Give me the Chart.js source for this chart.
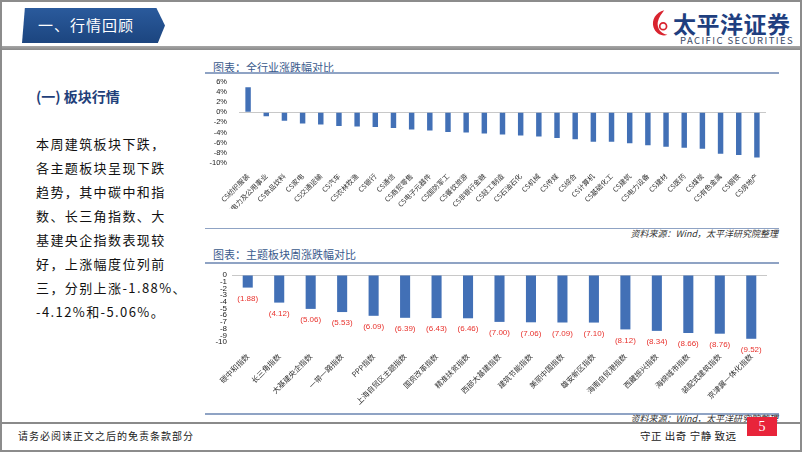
<!doctype html>
<html>
<head>
<meta charset="utf-8">
<title>行情回顾</title>
<script src="https://cdn.jsdelivr.net/npm/chart.js@4.4.0/dist/chart.umd.min.js"></script>
<style>
body { margin:0; background:#fff; font-family:"Noto Sans CJK SC","Noto Sans",sans-serif; }
#slide { position:relative; width:802px; height:452px; overflow:hidden; background:#fff; }
.abs { position:absolute; }
.frame { position:absolute; left:0; top:0; width:802px; height:452px; box-sizing:border-box; border:2px solid #8c8c8c; pointer-events:none; }
.banner { left:22px; top:8px; width:143px; height:35px; background:linear-gradient(#2a5a9c,#1c457f);
  clip-path:polygon(2% 0,94% 0,100% 50%,95% 100%,0 100%); }
.banner span { position:absolute; left:16px; top:6px; color:#fff; font-size:15px; letter-spacing:1px; white-space:nowrap; }
.hline { left:0; top:46px; width:802px; height:4px; background:linear-gradient(#a6a6a6,#8a8a8a); }
.brand { left:673px; top:6px; color:#1f3f7f; font-size:23px; font-weight:bold; letter-spacing:0.5px; white-space:nowrap; }
.brand-en { left:680px; top:33px; color:#3b4a66; font-size:9.5px; letter-spacing:1.4px; white-space:nowrap; }
.sec { left:36px; top:86px; color:#1f3f7a; font-size:14px; font-weight:bold; white-space:nowrap; }
.body { left:36px; top:132px; width:160px; color:#111; font-size:13px; line-height:24px; letter-spacing:1.4px; white-space:nowrap; }
.ctitle { color:#3a5a8c; font-size:11px; white-space:nowrap; }
.cline { height:2px; background:#8fa3c4; }
.src { color:#333; font-size:9px; font-style:italic; white-space:nowrap; text-align:right; }
.foot { left:0; top:422px; width:802px; height:2px; background:#8a8a8a; }
.page { left:747px; top:417px; width:30px; height:19px; background:#e8243a; color:#fff; font-size:14px; text-align:center; line-height:19px; font-family:"Liberation Serif",serif; }
</style>
</head>
<body>
<div id="slide">
  <div class="abs banner"><span>一、行情回顾</span></div>
  <svg class="abs" style="left:650px;top:8px" width="22" height="30" viewBox="0 0 20 28">
    <path d="M13 2 C5 4 1 11 3 18 C5 24 11 27 16 25 C10 24 6 19 7 13 C8 8 11 5 13 2 Z" fill="#d9242f"/>
    <circle cx="12" cy="17" r="3.2" fill="none" stroke="#d9242f" stroke-width="1.6"/>
  </svg>
  <div class="abs brand">太平洋证券</div>
  <div class="abs brand-en">PACIFIC SECURITIES</div>
  <div class="abs hline"></div>

  <div class="abs sec">(一) 板块行情</div>
  <div class="abs body">本周建筑板块下跌，<br>各主题板块呈现下跌<br>趋势，其中碳中和指<br>数、长三角指数、大<br>基建央企指数表现较<br>好，上涨幅度位列前<br>三，分别上涨-1.88%、<br>-4.12%和-5.06%。</div>

  <div class="abs ctitle" style="left:213px;top:59px">图表：全行业涨跌幅对比</div>
  <div class="abs cline" style="left:205px;top:72px;width:574px"></div>
  <div class="abs" style="left:205px;top:66px;width:575px;height:143px"><canvas id="industryChart"></canvas></div>
  <div class="abs cline" style="left:205px;top:228px;width:574px;height:1px"></div>
  <div class="abs src" style="left:500px;top:227px;width:278px">资料来源：Wind，太平洋研究院整理</div>

  <div class="abs ctitle" style="left:213px;top:246px">图表：主题板块周涨跌幅对比</div>
  <div class="abs cline" style="left:205px;top:262px;width:574px"></div>
  <div class="abs" style="left:205px;top:266px;width:575px;height:140px"><canvas id="themeChart"></canvas></div>
  <div class="abs cline" style="left:205px;top:413px;width:574px"></div>
  <div class="abs src" style="left:500px;top:412px;width:278px">资料来源：Wind，太平洋研究院整理</div>

  <div class="abs foot"></div>
  <div class="abs page">5</div>
  <div class="abs" style="left:18px;top:428px;font-size:10px;color:#222;letter-spacing:1px">请务必阅读正文之后的免责条款部分</div>
  <div class="abs" style="left:640px;top:428px;font-size:10.5px;color:#222;letter-spacing:0.5px;white-space:nowrap">守正 出奇 宁静 致远</div>
  <div class="frame"></div>
</div>
<script>
var industryNames = ['CS纺织服装', 'CS电力及公用事业', 'CS食品饮料', 'CS家电', 'CS交通运输', 'CS汽车',
  'CS农林牧渔', 'CS银行', 'CS通信', 'CS商贸零售', 'CS电子元器件', 'CS国防军工', 'CS餐饮旅游',
  'CS非银行金融', 'CS轻工制造', 'CS石油石化', 'CS机械', 'CS传媒', 'CS综合', 'CS计算机',
  'CS基础化工', 'CS建筑', 'CS电力设备', 'CS建材', 'CS医药', 'CS煤炭', 'CS有色金属', 'CS钢铁', 'CS房地产'];
var industryChange = [4.9, -0.8, -1.7, -2.2, -2.4, -2.7, -2.8, -2.9, -3.1, -3.4, -3.6, -3.9, -4.0,
  -4.2, -4.4, -4.6, -4.8, -5.1, -5.3, -5.8, -5.8, -6.1, -6.5, -6.8, -7.0, -7.2, -8.2, -8.4, -8.9];

var themeNames = ['碳中和指数', '长三角指数', '大基建央企指数', '一带一路指数', 'PPP指数', '上海自贸区主题指数',
  '国资改革指数', '精准扶贫指数', '西部大基建指数', '建筑节能指数', '美丽中国指数', '雄安新区指数',
  '海南自贸港指数', '西藏振兴指数', '海绵城市指数', '装配式建筑指数', '京津冀一体化指数'];
var themeChange = [-1.88, -4.12, -5.06, -5.53, -6.09, -6.39, -6.43, -6.46, -7.00, -7.06, -7.09, -7.10,
  -8.12, -8.34, -8.66, -8.76, -9.52];

var barColor = '#4270b6';
var cjk = '"Noto Sans CJK SC", sans-serif';

// red "(x.xx)" labels under each theme bar
var valueLabels = {
  id: 'valueLabels',
  afterDatasetsDraw: function(chart) {
    var ctx = chart.ctx;
    var meta = chart.getDatasetMeta(0);
    ctx.save();
    ctx.fillStyle = '#e8322d';
    ctx.font = '8px "Liberation Sans"';
    ctx.textAlign = 'center';
    ctx.textBaseline = 'middle';
    meta.data.forEach(function(bar, i) {
      var v = chart.data.datasets[0].data[i];
      ctx.fillText('(' + Math.abs(v).toFixed(2) + ')', bar.x, bar.y + 11);
    });
    ctx.restore();
  }
};

function zeroLine(ctx) {
  return ctx.tick && ctx.tick.value === 0 ? '#c8c8c8' : 'rgba(0,0,0,0)';
}

new Chart(document.getElementById('industryChart'), {
  type: 'bar',
  data: {
    labels: industryNames,
    datasets: [{ data: industryChange, backgroundColor: barColor, barPercentage: 0.3, categoryPercentage: 1 }]
  },
  options: {
    responsive: true,
    maintainAspectRatio: false,
    animation: false,
    layout: { padding: { top: 6, right: 14, left: 0, bottom: 0 } },
    plugins: { legend: { display: false }, tooltip: { enabled: false } },
    scales: {
      x: {
        grid: { display: false },
        border: { display: false },
        ticks: { autoSkip: false, minRotation: 45, maxRotation: 45, padding: 1,
          color: '#333', font: { size: 7, family: cjk } },
        afterFit: function(s) { s.height = 46; }
      },
      y: {
        min: -10, max: 6,
        grid: { color: zeroLine, drawTicks: false },
        border: { display: false },
        ticks: { stepSize: 2, autoSkip: false, padding: 12, color: '#222',
          font: { size: 7.5, family: 'Liberation Sans', lineHeight: 1 },
          callback: function(v) { return v + '%'; } },
        afterFit: function(s) { s.width = 34; }
      }
    }
  }
});

new Chart(document.getElementById('themeChart'), {
  type: 'bar',
  data: {
    labels: themeNames,
    datasets: [{ data: themeChange, backgroundColor: barColor, barPercentage: 0.32, categoryPercentage: 1 }]
  },
  plugins: [valueLabels],
  options: {
    responsive: true,
    maintainAspectRatio: false,
    animation: false,
    layout: { padding: { top: 8, right: 13, left: 0, bottom: 0 } },
    plugins: { legend: { display: false }, tooltip: { enabled: false } },
    scales: {
      x: {
        grid: { display: false },
        border: { display: false },
        ticks: { autoSkip: false, minRotation: 45, maxRotation: 45, padding: 2,
          color: '#333', font: { size: 7.5, family: cjk } },
        afterFit: function(s) { s.height = 64; }
      },
      y: {
        min: -10, max: 0,
        grid: { color: zeroLine, drawTicks: false },
        border: { display: false },
        ticks: { stepSize: 1, autoSkip: false, padding: 5, color: '#222',
          font: { size: 8, family: 'Liberation Sans', lineHeight: 1 } },
        afterFit: function(s) { s.width = 27; }
      }
    }
  }
});
</script>
</body>
</html>
